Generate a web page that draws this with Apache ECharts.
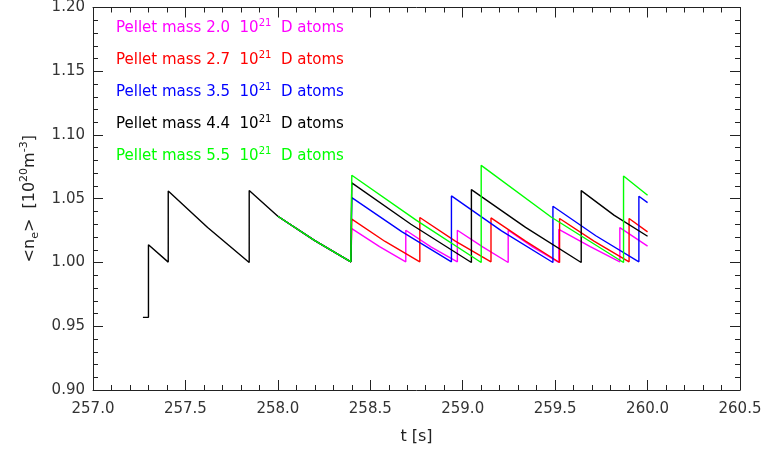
<!DOCTYPE html>
<html>
<head>
<meta charset="utf-8">
<script src="https://cdn.jsdelivr.net/npm/echarts@6/dist/echarts.min.js"></script>
<style>
  html, body { margin: 0; padding: 0; background: #fff; }
  #chart { width: 768px; height: 450px; }
</style>
</head>
<body>
<div id="chart"></div>
<script>
    // legend labels (pellet mass, 10^21 D atoms)
    var masses = ['2.0', '2.7', '3.5', '4.4', '5.5'];
    var colors = ['#ff00ff', '#ff0000', '#0000ff', '#000000', '#00ff00'];

    // common part before 258.4 s (all runs identical)
    var commonPart = [[258.0, 1.0363], [258.2, 1.0172], [258.395, 1.0005]];

    // black run starts earlier
    var earlyPart = [
        [257.27, 0.957], [257.30, 0.957], [257.30, 1.014], [257.407, 1.0003],
        [257.407, 1.056], [257.62, 1.0275], [257.845, 1.0], [257.845, 1.0565]
    ];

    // after 258.4 s, one array per pellet mass
    var mass20 = [
        [258.4, 1.0266], [258.55, 1.0125], [258.692, 1.0005], [258.692, 1.0253],
        [258.83, 1.012], [258.971, 1.0005], [258.971, 1.0253], [259.11, 1.012],
        [259.246, 1.0], [259.246, 1.0253], [259.38, 1.012], [259.52, 1.0],
        [259.52, 1.026], [259.69, 1.0125], [259.85, 1.0005], [259.85, 1.0274],
        [260.0, 1.0128]
    ];
    var mass27 = [
        [258.4, 1.034], [258.58, 1.0165], [258.768, 1.0005], [258.768, 1.0353],
        [258.96, 1.0168], [259.153, 1.0005], [259.153, 1.035], [259.34, 1.0168],
        [259.524, 1.0], [259.524, 1.0345], [259.71, 1.0168], [259.9, 1.0005],
        [259.9, 1.0345], [260.0, 1.024]
    ];
    var mass35 = [
        [258.4, 1.0509], [258.67, 1.0242], [258.939, 1.0005], [258.939, 1.0522],
        [259.21, 1.0248], [259.488, 1.0], [259.488, 1.0441], [259.72, 1.021],
        [259.953, 1.0005], [259.953, 1.052], [260.0, 1.047]
    ];
    var mass44 = [
        [258.4, 1.0624], [258.72, 1.030], [259.047, 1.0], [259.047, 1.0572],
        [259.34, 1.0275], [259.641, 1.0], [259.641, 1.0564], [259.82, 1.037],
        [260.0, 1.0206]
    ];
    var mass55 = [
        [258.4, 1.0684], [258.75, 1.033], [259.1, 1.0], [259.1, 1.0762],
        [259.48, 1.0355], [259.87, 1.0], [259.87, 1.0679], [260.0, 1.0527]
    ];

    var runs = [
        commonPart.concat(mass20),
        commonPart.concat(mass27),
        commonPart.concat(mass35),
        earlyPart.concat(commonPart, mass44),
        commonPart.concat(mass55)
    ];

    var font = 'DejaVu Sans';
    var names = masses.map(function (m) { return 'Pellet mass ' + m; });

    var legendData = names.map(function (n, i) {
        return {
            name: n,
            icon: 'none',
            textStyle: {
                color: colors[i],
                rich: {
                    n: { color: colors[i], fontSize: 15, lineHeight: 20, fontFamily: font },
                    s: { color: colors[i], fontSize: 10, lineHeight: 10, verticalAlign: 'top', fontFamily: font }
                }
            }
        };
    });

    var series = runs.map(function (d, i) {
        return {
            name: names[i],
            type: 'line',
            data: d,
            showSymbol: false,
            symbol: 'none',
            lineStyle: { color: colors[i], width: 1.4 },
            itemStyle: { color: colors[i] },
            z: 2 + i
        };
    });

    function axisCommon(extra) {
        var base = {
            type: 'value',
            axisLine: { show: true, lineStyle: { color: '#222', width: 1 } },
            axisTick: { show: true, inside: true, length: 10, lineStyle: { color: '#222' } },
            minorTick: { show: true, splitNumber: 5, length: 5, lineStyle: { color: '#222' } },
            splitLine: { show: false },
            minorSplitLine: { show: false }
        };
        for (var k in extra) base[k] = extra[k];
        return base;
    }

    var chart = echarts.init(document.getElementById('chart'));
    chart.setOption({
        animation: false,
        backgroundColor: '#fff',
        grid: { left: 93, right: 28, top: 7, bottom: 60 },
        legend: {
            orient: 'vertical',
            left: 106,
            top: 13,
            itemWidth: 0,
            itemHeight: 0,
            itemGap: 14.5,
            selectedMode: false,
            data: legendData,
            formatter: function (name) {
                var m = name.replace('Pellet mass ', '');
                return '{n|Pellet mass ' + m + '  10}{s|21}{n|  D atoms}';
            }
        },
        xAxis: [
            axisCommon({
                position: 'bottom',
                min: 257, max: 260.5, interval: 0.5,
                name: 't [s]',
                nameLocation: 'middle',
                nameGap: 39,
                nameTextStyle: { fontFamily: font, fontSize: 16, color: '#222' },
                axisLabel: {
                    margin: 12, fontFamily: font, fontSize: 15, color: '#333',
                    formatter: function (v) { return v.toFixed(1); }
                }
            }),
            axisCommon({
                position: 'top',
                min: 257, max: 260.5, interval: 0.5,
                axisLabel: { show: false }
            })
        ],
        yAxis: [
            axisCommon({
                position: 'left',
                min: 0.9, max: 1.2, interval: 0.05,
                name: '{a|<n}{b|e}{a|>  [10}{c|20}{a|m}{c|-3}{a|]}',
                nameLocation: 'middle',
                nameRotate: 90,
                nameGap: 44,
                nameTextStyle: {
                    color: '#222',
                    rich: {
                        a: { fontFamily: font, fontSize: 16, lineHeight: 22, color: '#222' },
                        b: { fontFamily: font, fontSize: 11, lineHeight: 10, verticalAlign: 'bottom', color: '#222' },
                        c: { fontFamily: font, fontSize: 11, lineHeight: 10, verticalAlign: 'top', color: '#222' }
                    }
                },
                axisLabel: {
                    margin: 8, fontFamily: font, fontSize: 15, color: '#333',
                    formatter: function (v) { return v.toFixed(2); }
                }
            }),
            axisCommon({
                position: 'right',
                min: 0.9, max: 1.2, interval: 0.05,
                axisLabel: { show: false }
            })
        ],
        series: series
    });
</script>
</body>
</html>
